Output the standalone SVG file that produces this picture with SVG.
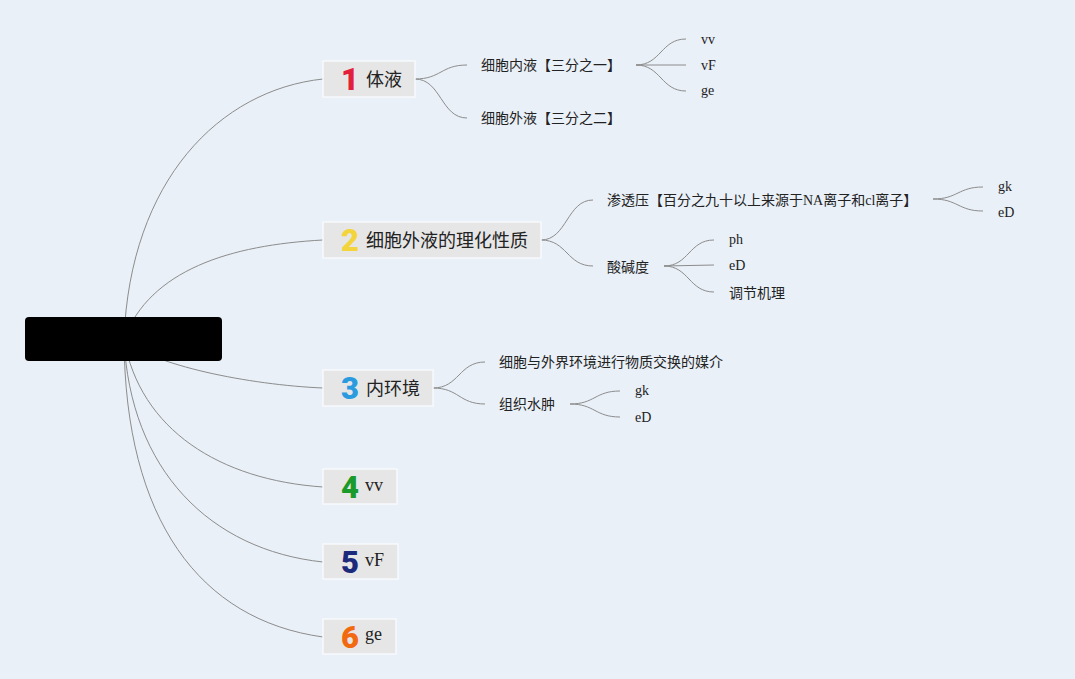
<svg xmlns="http://www.w3.org/2000/svg" width="1075" height="679" viewBox="0 0 1075 679">
<style>
.bg{fill:#e9f0f8}
.c{fill:none;stroke:#8c8c8c;stroke-width:1}
.box{fill:#e6e6e6;stroke:#f7f9fc;stroke-width:1.5}
.t1{font-family:"Noto Sans CJK SC","Noto Sans",sans-serif;font-size:18px;fill:#222}
.t2{font-family:"Liberation Serif","Noto Sans CJK SC",sans-serif;font-size:14px;fill:#222}
.s1{font-family:"Liberation Serif",serif;font-size:18px;fill:#222}
.s2{font-family:"Liberation Serif",serif;font-size:14px;fill:#222}
.num{font-family:"Roboto","Liberation Sans",sans-serif;font-weight:900;font-size:31px;text-anchor:middle}
</style>
<rect class="bg" x="0" y="0" width="1075" height="679"/>
<g id="connectors">
<path class="c" d="M124,339 C130,180 220,90 323,79"/>
<path class="c" d="M124,339 C150,270 230,245 323,240"/>
<path class="c" d="M124,339 C150,365 250,385 323,388"/>
<path class="c" d="M124,339 C140,430 220,480 323,487"/>
<path class="c" d="M124,339 C130,470 210,550 323,562"/>
<path class="c" d="M124,339 C125,520 200,620 323,637"/>
<path class="c" d="M415,79 C441,79 441,65 467,65"/>
<path class="c" d="M415,79 C441,79 441,118 467,118"/>
<path class="c" d="M636,65 C661,65 661,39 686,39"/>
<path class="c" d="M636,65 L686,65"/>
<path class="c" d="M636,65 C661,65 661,91 686,91"/>
<path class="c" d="M541,240 C567,240 567,200 593,200"/>
<path class="c" d="M541,240 C567,240 567,266 593,266"/>
<path class="c" d="M933,199 C958,199 958,187 983,187"/>
<path class="c" d="M933,199 C958,199 958,211 983,211"/>
<path class="c" d="M664,266 C689,266 689,240 714,240"/>
<path class="c" d="M664,266 L714,265"/>
<path class="c" d="M664,266 C689,266 689,292 714,292"/>
<path class="c" d="M433,388 C459,388 459,362 485,362"/>
<path class="c" d="M433,388 C459,388 459,404 485,404"/>
<path class="c" d="M570,404 C595,404 595,391 620,391"/>
<path class="c" d="M570,404 C595,404 595,417 620,417"/>
</g>
<g id="root"><rect x="25" y="317" width="197" height="44" rx="4" fill="#000"/></g>
<g id="n1"><rect class="box" x="323" y="61" width="92" height="36"/><text class="num" x="350" y="90" fill="#e3203a">1</text><text class="t1" x="366" y="86">体液</text></g>
<g id="n2"><rect class="box" x="323" y="222" width="218" height="36"/><text class="num" x="350" y="251" fill="#f4d43c">2</text><text class="t1" x="366" y="247">细胞外液的理化性质</text></g>
<g id="n3"><rect class="box" x="323" y="370" width="110" height="36"/><text class="num" x="350" y="399" fill="#2b9be0">3</text><text class="t1" x="366" y="395">内环境</text></g>
<g id="n4"><rect class="box" x="323" y="469" width="74" height="35"/><text class="num" x="350" y="498" fill="#1a9a2a">4</text><text class="s1" x="365" y="491">vv</text></g>
<g id="n5"><rect class="box" x="323" y="544" width="75" height="35"/><text class="num" x="350" y="573" fill="#1c2a7c">5</text><text class="s1" x="365" y="566">vF</text></g>
<g id="n6"><rect class="box" x="323" y="619" width="73" height="35"/><text class="num" x="350" y="648" fill="#f26a10">6</text><text class="s1" x="365" y="640">ge</text></g>
<g id="n1a"><text class="t2" x="481" y="70">细胞内液【三分之一】</text></g>
<g id="n1b"><text class="t2" x="481" y="123">细胞外液【三分之二】</text></g>
<g id="n1a1"><text class="s2" x="701" y="44">vv</text></g>
<g id="n1a2"><text class="s2" x="701" y="70">vF</text></g>
<g id="n1a3"><text class="s2" x="701" y="95">ge</text></g>
<g id="n2a"><text class="t2" x="607" y="205">渗透压【百分之九十以上来源于NA离子和cl离子】</text></g>
<g id="n2b"><text class="t2" x="607" y="272">酸碱度</text></g>
<g id="n2a1"><text class="s2" x="998" y="191">gk</text></g>
<g id="n2a2"><text class="s2" x="998" y="217">eD</text></g>
<g id="n2b1"><text class="s2" x="729" y="244">ph</text></g>
<g id="n2b2"><text class="s2" x="729" y="270">eD</text></g>
<g id="n2b3"><text class="t2" x="729" y="298">调节机理</text></g>
<g id="n3a"><text class="t2" x="499" y="367">细胞与外界环境进行物质交换的媒介</text></g>
<g id="n3b"><text class="t2" x="499" y="409">组织水肿</text></g>
<g id="n3b1"><text class="s2" x="635" y="395">gk</text></g>
<g id="n3b2"><text class="s2" x="635" y="422">eD</text></g>
</svg>
